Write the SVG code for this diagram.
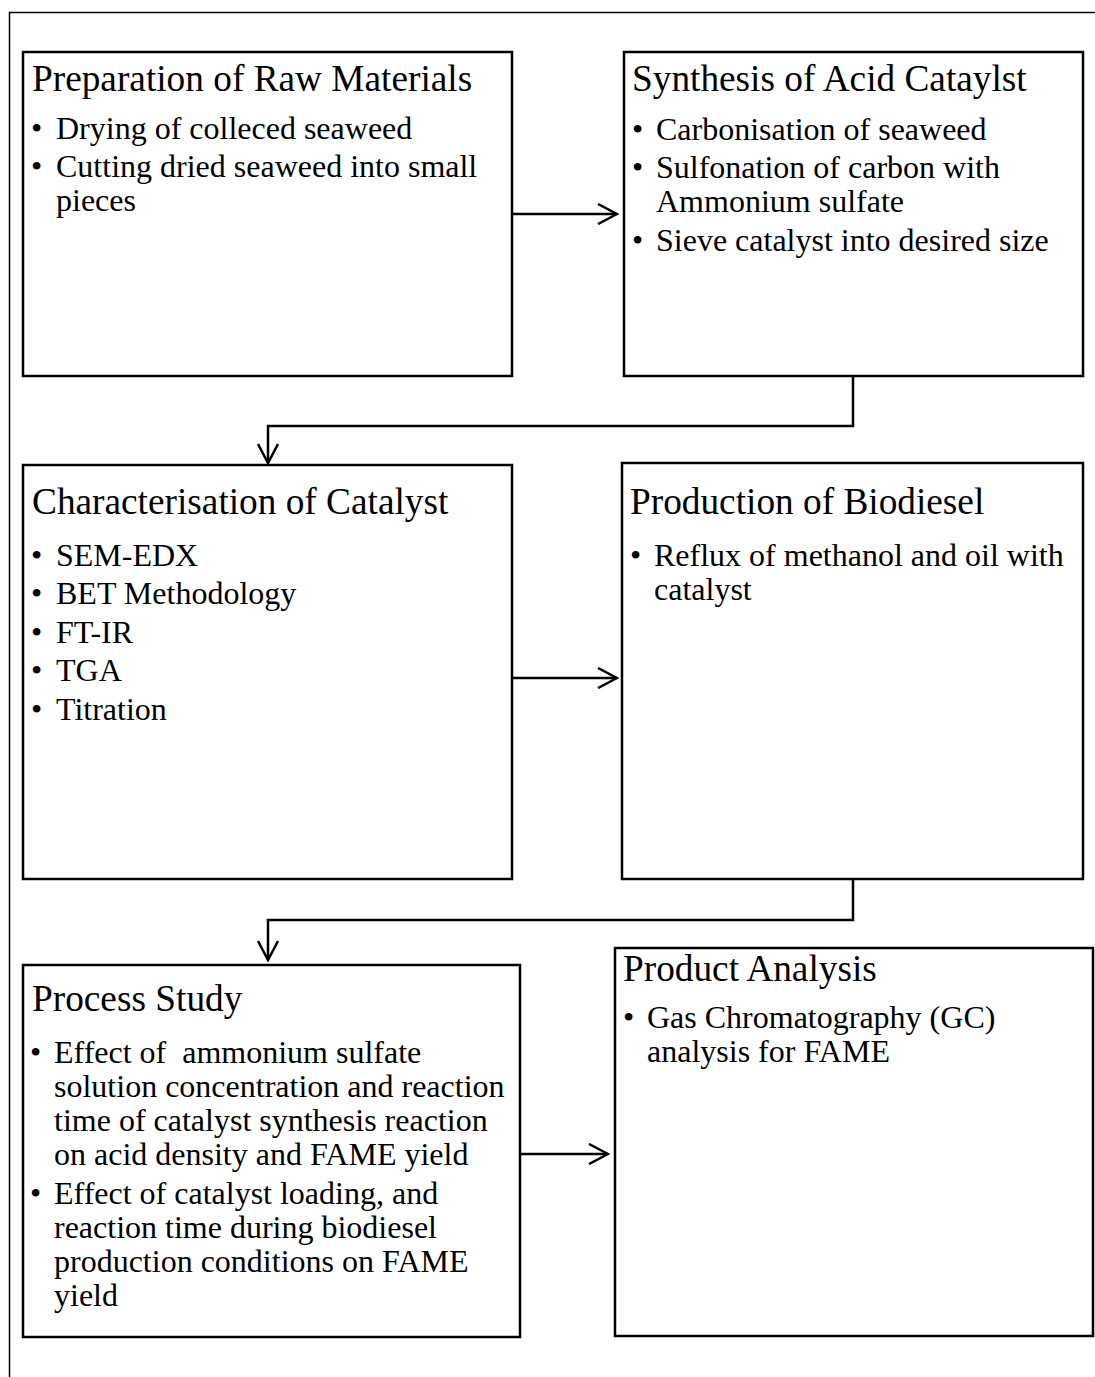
<svg xmlns="http://www.w3.org/2000/svg" width="1095" height="1377" viewBox="0 0 1095 1377">
<style>
.box{fill:#fff;stroke:#000;stroke-width:2.5}
.t{font-family:"Liberation Serif","Times New Roman",serif;font-size:37.3px;fill:#000}
.b{font-family:"Liberation Serif","Times New Roman",serif;font-size:32px;fill:#000}
.c{fill:none;stroke:#000;stroke-width:2.5}
.frame{fill:none;stroke:#000;stroke-width:1.5}
</style>
<defs>
<marker id="arr" viewBox="0 0 22 22" refX="20" refY="11" markerWidth="22" markerHeight="22" markerUnits="userSpaceOnUse" orient="auto">
<path d="M1,1 L20,11 L1,21" fill="none" stroke="#000" stroke-width="2.5"/>
</marker>
</defs>
<rect width="1095" height="1377" fill="#fff"/>
<path class="frame" d="M9.5,1377 L9.5,12.5 L1095,12.5"/>

<g id="n1">
<rect class="box" x="23" y="52" width="489" height="324"/>
<text class="t" x="32" y="91">Preparation of Raw Materials</text>
<text class="b" x="31" y="139">•</text><text class="b" x="56" y="139">Drying of colleced seaweed</text>
<text class="b" x="31" y="177">•</text><text class="b" x="56" y="177">Cutting dried seaweed into small</text>
<text class="b" x="56" y="211">pieces</text>
</g>

<g id="n2">
<rect class="box" x="624" y="52" width="459" height="324"/>
<text class="t" x="632" y="91">Synthesis of Acid Cataylst</text>
<text class="b" x="632" y="140">•</text><text class="b" x="656" y="140">Carbonisation of seaweed</text>
<text class="b" x="632" y="178">•</text><text class="b" x="656" y="178">Sulfonation of carbon with</text>
<text class="b" x="656" y="212">Ammonium sulfate</text>
<text class="b" x="632" y="251">•</text><text class="b" x="656" y="251">Sieve catalyst into desired size</text>
</g>

<g id="n3">
<rect class="box" x="23" y="465" width="489" height="414"/>
<text class="t" x="32" y="514">Characterisation of Catalyst</text>
<text class="b" x="31" y="566">•</text><text class="b" x="56" y="566">SEM-EDX</text>
<text class="b" x="31" y="604">•</text><text class="b" x="56" y="604">BET Methodology</text>
<text class="b" x="31" y="643">•</text><text class="b" x="56" y="643">FT-IR</text>
<text class="b" x="31" y="681">•</text><text class="b" x="56" y="681">TGA</text>
<text class="b" x="31" y="720">•</text><text class="b" x="56" y="720">Titration</text>
</g>

<g id="n4">
<rect class="box" x="622" y="463" width="461" height="416"/>
<text class="t" x="630" y="514">Production of Biodiesel</text>
<text class="b" x="630" y="566">•</text><text class="b" x="654" y="566">Reflux of methanol and oil with</text>
<text class="b" x="654" y="600">catalyst</text>
</g>

<g id="n5">
<rect class="box" x="23" y="965" width="497" height="372"/>
<text class="t" x="32" y="1011">Process Study</text>
<text class="b" x="30" y="1063">•</text><text class="b" x="54" y="1063" xml:space="preserve">Effect of  ammonium sulfate</text>
<text class="b" x="54" y="1097">solution concentration and reaction</text>
<text class="b" x="54" y="1131">time of catalyst synthesis reaction</text>
<text class="b" x="54" y="1165">on acid density and FAME yield</text>
<text class="b" x="30" y="1204">•</text><text class="b" x="54" y="1204">Effect of catalyst loading, and</text>
<text class="b" x="54" y="1238">reaction time during biodiesel</text>
<text class="b" x="54" y="1272">production conditions on FAME</text>
<text class="b" x="54" y="1306">yield</text>
</g>

<g id="n6">
<rect class="box" x="615" y="948" width="478" height="388"/>
<text class="t" x="623" y="981">Product Analysis</text>
<text class="b" x="623" y="1028">•</text><text class="b" x="647" y="1028">Gas Chromatography (GC)</text>
<text class="b" x="647" y="1062">analysis for FAME</text>
</g>

<g id="connectors">
<path class="c" d="M512,214 L617,214" marker-end="url(#arr)"/>
<path class="c" d="M853,376 L853,426 L268,426 L268,463" marker-end="url(#arr)"/>
<path class="c" d="M512,678 L617,678" marker-end="url(#arr)"/>
<path class="c" d="M853,879 L853,920 L268,920 L268,960" marker-end="url(#arr)"/>
<path class="c" d="M520,1154 L608,1154" marker-end="url(#arr)"/>
</g>
</svg>
